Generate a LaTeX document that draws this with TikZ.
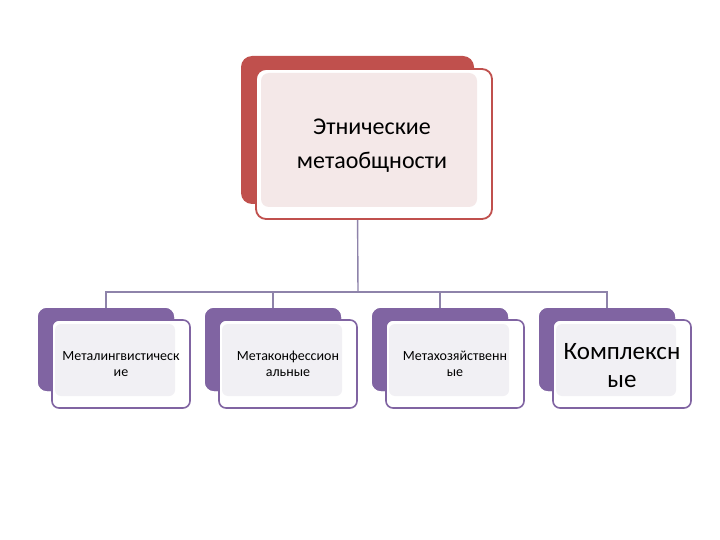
\documentclass[tikz,border=0pt]{standalone}
\usepackage{fontspec}
\setmainfont{Carlito}
\definecolor{redacc}{HTML}{C0504D}
\definecolor{purpacc}{HTML}{8064A2}
\definecolor{pinkfill}{HTML}{F4E8E8}
\definecolor{lavfill}{HTML}{F1F0F4}
\definecolor{linkcol}{HTML}{8E83AA}
\begin{document}
\begin{tikzpicture}[x=1pt, y=-1pt,
    back/.style={rectangle, rounded corners=9pt, minimum width=136pt, minimum height=83pt, fill=purpacc},
    front/.style={rectangle, rounded corners=7pt, draw=purpacc, line width=1.6pt, fill=white, minimum width=138pt, minimum height=88pt},
    shade/.style={rectangle, rounded corners=6pt, fill=lavfill, minimum width=120pt, minimum height=72pt},
    link/.style={draw=linkcol, line width=1.4pt}
]
\useasboundingbox (0,0) rectangle (720,540);
% Verbindungen
\coordinate (bar) at (358, 292);
\node[rectangle, minimum width=233pt, minimum height=148pt] (topback) at (357.5, 130) {};
\foreach \i in {0,...,3} {
    \node[back] (b\i) at (106+167*\i, 349.5) {};
}
\draw[link] (topback.south) -- (bar);
\draw[link] (b0.north) -- ++(0,-16) -| (b3.north);
\draw[link] (b1.north) -- (b1.north |- bar);
\draw[link] (b2.north) -- (b2.north |- bar);
% Oben
\node[rectangle, rounded corners=11pt, fill=redacc, minimum width=233pt, minimum height=148pt] at (357.5, 130) {};
\node[rectangle, rounded corners=10pt, draw=redacc, line width=1.8pt, fill=white, minimum width=236pt, minimum height=150pt] (topfront) at (374, 144) {};
\node[rectangle, rounded corners=8pt, fill=pinkfill, minimum width=216pt, minimum height=134pt] at (369, 140) {};
\node[align=center, font=\fontsize{24}{34}\selectfont] (toptext) at (372, 146) {Этнические\\метаобщности};
% Unten
\foreach \i in {0,...,3} {
    \node[back] at (106+167*\i, 349.5) {};
    \node[front] (f\i) at (121+167*\i, 364) {};
    \node[shade] at (115+167*\i, 360) {};
}
\node[align=center, font=\fontsize{14}{16}\selectfont] (t0) at (f0) {Металингвистическ\\ие};
\node[align=center, font=\fontsize{14}{16}\selectfont] (t1) at (f1) {Метаконфессион\\альные};
\node[align=center, font=\fontsize{14}{16}\selectfont] (t2) at (f2) {Метахозяйственн\\ые};
\node[align=center, font=\fontsize{25}{28}\selectfont, yshift=-2pt] (t3) at (f3) {Комплексн\\ые};
\end{tikzpicture}
\end{document}
